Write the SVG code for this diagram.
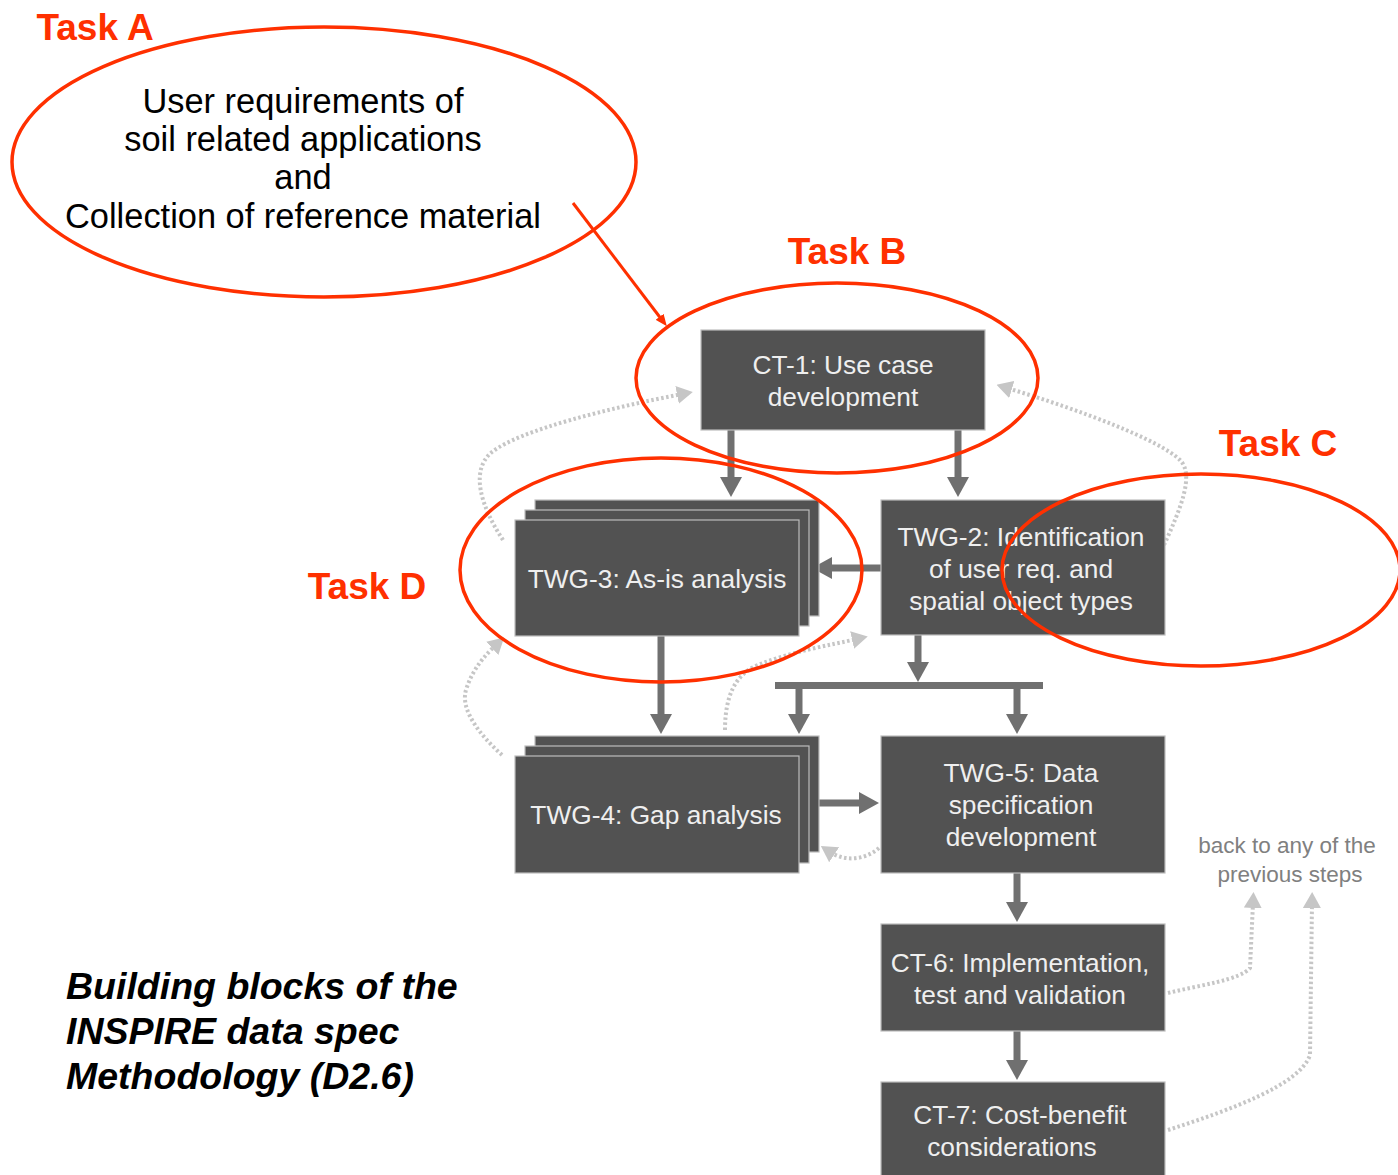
<svg xmlns="http://www.w3.org/2000/svg" width="1398" height="1175" viewBox="0 0 1398 1175">
<style>
.box{fill:#525252;stroke:#bdbdbd;stroke-width:1.2}
.bt{font-family:"Liberation Sans",Arial,sans-serif;font-size:26.3px;fill:#efefef;text-anchor:middle}
.flow{fill:none;stroke:#707070;stroke-width:7}
.back{fill:none;stroke:#c6c6c6;stroke-width:4;stroke-dasharray:2.5 2.5}
.red{fill:none;stroke:#ff3000;stroke-width:3.5}
.task{font-family:"Liberation Sans",Arial,sans-serif;font-weight:bold;font-size:37px;fill:#ff3000;text-anchor:middle}
.ell{font-family:"Liberation Sans",Arial,sans-serif;font-size:34.4px;fill:#000;text-anchor:middle}
.note{font-family:"Liberation Sans",Arial,sans-serif;font-size:22.5px;fill:#808080;text-anchor:middle}
.title{font-family:"Liberation Sans",Arial,sans-serif;font-size:37.5px;font-weight:bold;font-style:italic;fill:#000}
</style>
<defs>
<marker id="ah" viewBox="0 0 20 22" refX="8" refY="11" markerWidth="20" markerHeight="22" markerUnits="userSpaceOnUse" orient="auto">
<path d="M0,0 L20,11 L0,22 z" fill="#707070"/>
</marker>
<marker id="gh" viewBox="0 0 16 18" refX="5" refY="9" markerWidth="16" markerHeight="18" markerUnits="userSpaceOnUse" orient="auto">
<path d="M0,0 L16,9 L0,18 z" fill="#c6c6c6"/>
</marker>
<marker id="rh" viewBox="0 0 12 10" refX="4" refY="5" markerWidth="12" markerHeight="10" markerUnits="userSpaceOnUse" orient="auto">
<path d="M0,0 L12,5 L0,10 z" fill="#ff3000"/>
</marker>
</defs>
<rect width="1398" height="1175" fill="#fff"/>

<g id="connectors">
<path class="flow" d="M731,430 V485" marker-end="url(#ah)"/>
<path class="flow" d="M958,430 V485" marker-end="url(#ah)"/>
<path class="flow" d="M881,568 H824" marker-end="url(#ah)"/>
<path class="flow" d="M918,635 V670" marker-end="url(#ah)"/>
<rect x="775" y="682" width="268" height="7" fill="#707070"/>
<path class="flow" d="M799,689 V722" marker-end="url(#ah)"/>
<path class="flow" d="M1017,689 V722" marker-end="url(#ah)"/>
<path class="flow" d="M661,636 V722" marker-end="url(#ah)"/>
<path class="flow" d="M819,803 H867" marker-end="url(#ah)"/>
<path class="flow" d="M1017,873 V910" marker-end="url(#ah)"/>
<path class="flow" d="M1017,1031 V1068" marker-end="url(#ah)"/>

<path class="back" d="M503,540 C480,505 470,470 492,452 C520,430 610,408 682,394" marker-end="url(#gh)"/>
<path class="back" d="M1164,545 C1180,510 1195,475 1180,460 C1160,440 1080,410 1007,388" marker-end="url(#gh)"/>
<path class="back" d="M502,755 C480,735 460,710 466,690 C472,670 485,655 496,645" marker-end="url(#gh)"/>
<path class="back" d="M725,730 C725,700 733,675 758,665 C790,652 830,645 857,639" marker-end="url(#gh)"/>
<path class="back" d="M879,848 C865,860 845,862 830,852" marker-end="url(#gh)"/>
<path class="back" d="M1168,993 C1200,985 1240,980 1250,968 L1253,903" marker-end="url(#gh)"/>
<path class="back" d="M1168,1130 C1230,1110 1300,1085 1310,1055 L1312,903" marker-end="url(#gh)"/>

<path d="M573,203 L662,320" stroke="#ff3000" stroke-width="3" fill="none" marker-end="url(#rh)"/>
</g>

<g id="ct1">
<rect class="box" x="701" y="330" width="284" height="100"/>
<text class="bt" x="843" y="374">CT-1: Use case</text>
<text class="bt" x="843" y="406">development</text>
</g>

<g id="twg3">
<rect class="box" x="535" y="500" width="284" height="116"/>
<rect class="box" x="525" y="510" width="284" height="116"/>
<rect class="box" x="515" y="520" width="284" height="116"/>
<text class="bt" x="657" y="588">TWG-3: As-is analysis</text>
</g>

<g id="twg2">
<rect class="box" x="881" y="500" width="284" height="135"/>
<text class="bt" x="1021" y="546">TWG-2: Identification</text>
<text class="bt" x="1021" y="578">of user req. and</text>
<text class="bt" x="1021" y="610">spatial object types</text>
</g>

<g id="twg4">
<rect class="box" x="535" y="736" width="284" height="116"/>
<rect class="box" x="525" y="746" width="284" height="117"/>
<rect class="box" x="515" y="756" width="284" height="117"/>
<text class="bt" x="656" y="824">TWG-4: Gap analysis</text>
</g>

<g id="twg5">
<rect class="box" x="881" y="736" width="284" height="137"/>
<text class="bt" x="1021" y="782">TWG-5: Data</text>
<text class="bt" x="1021" y="814">specification</text>
<text class="bt" x="1021" y="846">development</text>
</g>

<g id="ct6">
<rect class="box" x="881" y="924" width="284" height="107"/>
<text class="bt" x="1020" y="972">CT-6: Implementation,</text>
<text class="bt" x="1020" y="1004">test and validation</text>
</g>

<g id="ct7">
<rect class="box" x="881" y="1082" width="284" height="100"/>
<text class="bt" x="1020" y="1124">CT-7: Cost-benefit</text>
<text class="bt" x="1012" y="1156">considerations</text>
</g>

<g id="note">
<text class="note" x="1287" y="853">back to any of the</text>
<text class="note" x="1290" y="882">previous steps</text>
</g>

<g id="taskA">
<ellipse class="red" cx="324" cy="162" rx="312" ry="135"/>
<text class="ell" x="303" y="113">User requirements of</text>
<text class="ell" x="303" y="151">soil related applications</text>
<text class="ell" x="303" y="189">and</text>
<text class="ell" x="303" y="228">Collection of reference material</text>
<text class="task" x="95" y="40">Task A</text>
</g>

<g id="taskB">
<ellipse class="red" cx="837" cy="378" rx="201" ry="95"/>
<text class="task" x="847" y="264">Task B</text>
</g>

<g id="taskC">
<ellipse class="red" cx="1201" cy="570" rx="199" ry="96"/>
<text class="task" x="1278" y="456">Task C</text>
</g>

<g id="taskD">
<ellipse class="red" cx="661" cy="570" rx="201" ry="112"/>
<text class="task" x="367" y="599">Task D</text>
</g>

<g id="caption">
<text class="title" x="66" y="999">Building blocks of the</text>
<text class="title" x="66" y="1044">INSPIRE data spec</text>
<text class="title" x="66" y="1089">Methodology (D2.6)</text>
</g>
</svg>
